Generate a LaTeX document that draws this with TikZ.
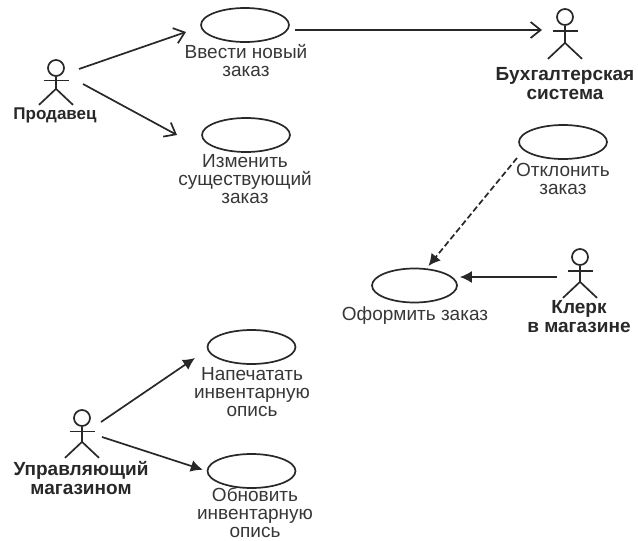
\documentclass[tikz,border=0pt]{standalone}
\usepackage{fontspec}
\setmainfont{Liberation Sans}
\usetikzlibrary{shapes.geometric,arrows.meta,positioning,calc}
\definecolor{inkgray}{RGB}{40,40,40}
\definecolor{textgray}{RGB}{55,55,55}
% name, x, y, neck length
\newcommand{\actorfig}[4]{%
  \node[actorhead] (#1) at (#2,#3) {};
  \draw[actorline] (#1.south) -- ++(0,#4) coordinate (#1hip)
    -- ++(-17,16) (#1hip) -- ++(17,16);
  \draw[actorline] ($(#1.south)!0.3!(#1hip)+(-12.5,0)$) -- ++(25,0);
}
\begin{document}
\begin{tikzpicture}[
  x=1pt,y=-1pt,
  usecase/.style={draw=inkgray, ellipse, line width=1.7pt, minimum width=88pt, minimum height=34pt, inner sep=0pt},
  actorhead/.style={draw=inkgray, circle, line width=1.7pt, minimum size=16pt, inner sep=0pt},
  actorline/.style={draw=inkgray, line width=1.7pt},
  ucnote/.style={font=\fontsize{19}{18}\selectfont, text=textgray, align=center, inner sep=0pt},
  actnote/.style={font=\fontsize{19}{19}\selectfont\bfseries, text=inkgray, align=center, inner sep=0pt},
  openarr/.style={-{Straight Barb[length=10pt,width=16pt]}, draw=inkgray, line width=1.7pt},
  fillarr/.style={-{Latex[length=12pt,width=12pt]}, draw=inkgray, line width=1.7pt},
  dasharr/.style={fillarr, dash pattern=on 6pt off 3pt}
]
\useasboundingbox (0,0) rectangle (638,541);
% use cases
\node[usecase] (vvod) at (245,25) {};
\node[usecase] (izm) at (246,135) {};
\node[usecase] (otkl) at (563,142) {};
\node[usecase, minimum width=85pt] (oform) at (414.5,285.5) {};
\node[usecase] (pech) at (251.5,347) {};
\node[usecase] (obn) at (251.5,471) {};

\node[ucnote] (vvodt) at (246,60.5) {Ввести новый\\заказ};
\node[ucnote] (izmt) at (245,179.5) {Изменить\\существующий\\заказ};
\node[ucnote] (otklt) at (563,178.5) {Отклонить\\заказ};
\node[ucnote] (oformt) at (415,316) {Оформить заказ};
\node[ucnote] (pecht) at (252,392.5) {Напечатать\\инвентарную\\опись};
\node[ucnote] (obnt) at (255,512.5) {Обновить\\инвентарную\\опись};

% actors
\actorfig{prod}{56}{68}{12}
\actorfig{buh}{565}{17}{17}
\actorfig{klerk}{580}{257}{16}
\actorfig{upr}{82}{418}{15}

\node[actnote, font=\fontsize{17}{19}\selectfont\bfseries] (prodt) at (55,115) {Продавец};
\node[actnote] (buht) at (565,84) {Бухгалтерская\\система};
\node[actnote] (klerkt) at (579,316.5) {Клерк\\в магазине};
\node[actnote] (uprt) at (81,478.5) {Управляющий\\магазином};

% free ends near the figures
\coordinate (prodR) at (79,69);
\coordinate (prodQ) at (83,84);
\coordinate (buhL) at (542,30);
\coordinate (vvodR) at (295,30);
\coordinate (vvodL) at (186,32);
\coordinate (izmL) at (177,135);
\coordinate (otklS) at (517,158);
\coordinate (klerkL) at (557,277);
\coordinate (uprR) at (101,422);
\coordinate (uprQ) at (102,437);
\coordinate (pechL) at (195,358);

\draw[openarr] (prodR) -- (vvodL);
\draw[openarr] (prodQ) -- (izmL);
\draw[openarr] (vvodR) -- (buhL);
\draw[dasharr, shorten >=3pt] (otklS) -- (oform.55);
\draw[fillarr, shorten >=2pt] (klerkL) -- (oform.east |- klerkL);
\draw[fillarr] (uprR) -- (pechL);
\draw[fillarr, shorten >=4pt] (uprQ) -- (obn.west);
\end{tikzpicture}
\end{document}
